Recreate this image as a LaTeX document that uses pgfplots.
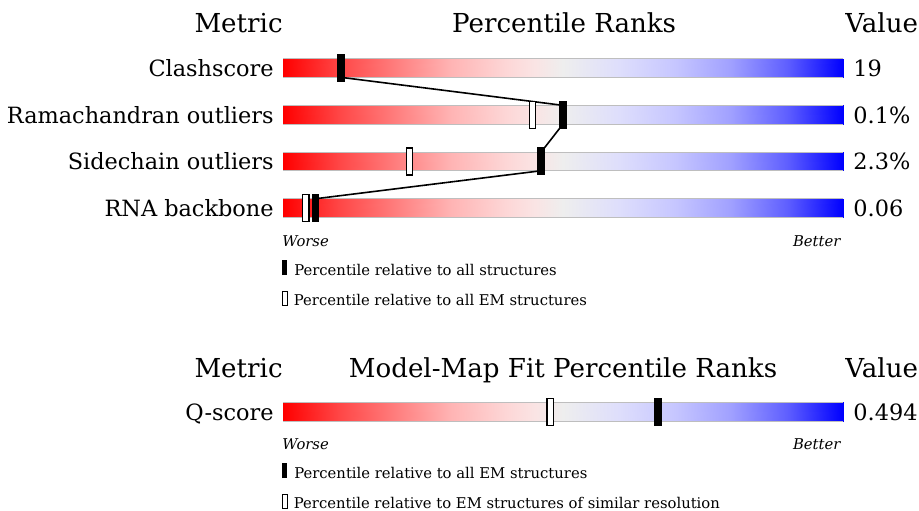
\documentclass[border=0pt]{standalone}
\usepackage{pgfplots}
\pgfplotsset{compat=1.18}
\usepackage{fontspec}
\setmainfont{DejaVu Serif}

% slider marks: filled = all structures, open = EM subset
\pgfdeclareplotmark{pctall}{%
  \pgfpathrectangle{\pgfpoint{-1.875pt}{-7pt}}{\pgfpoint{3.75pt}{14pt}}%
  \pgfusepath{fill}}
\pgfdeclareplotmark{pctem}{%
  \pgfpathrectangle{\pgfpoint{-1.55pt}{-6.75pt}}{\pgfpoint{3.1pt}{13.5pt}}%
  \pgfusepathqfillstroke}

\newcommand{\ttl}{\fontsize{13.05}{15}\selectfont}
\newcommand{\lbl}{\fontsize{11.2}{13}\selectfont}
\newcommand{\sml}{\fontsize{7.4}{9}\selectfont}
\newcommand{\allbox}{\rule{2.5pt}{7.5pt}}
\newcommand{\embox}{{\setlength\fboxsep{0pt}\setlength\fboxrule{0.6pt}\fbox{\rule{0pt}{6.3pt}\hspace{1.6pt}}}}

\begin{document}
\begin{tikzpicture}
\begin{axis}[
    width=459.5pt, height=255pt, scale only axis,
    xmin=-50.536, xmax=113.571,
    ymin=-510, ymax=0,
    hide axis, clip=false,
    colormap={slider}{rgb255(0cm)=(255,0,0) rgb255(2cm)=(255,70,70)
      rgb255(4cm)=(255,125,125) rgb255(6cm)=(255,180,180)
      rgb255(8cm)=(253,215,215) rgb255(9cm)=(250,228,228)
      rgb255(10cm)=(238,238,238) rgb255(12cm)=(222,222,252)
      rgb255(14cm)=(198,198,255) rgb255(16cm)=(160,160,255)
      rgb255(18cm)=(95,95,255) rgb255(20cm)=(0,0,255)},
    point meta min=0, point meta max=100,
    unbounded coords=jump,
]
\path (rel axis cs:0,0) rectangle (rel axis cs:1,1);

% gradient bars
\addplot[surf, shader=interp, mesh/cols=12, point meta=x, forget plot] coordinates {
(0,-58.65)(10,-58.65)(20,-58.65)(30,-58.65)(40,-58.65)(45,-58.65)(50,-58.65)(60,-58.65)(70,-58.65)(80,-58.65)(90,-58.65)(100,-58.65)
(0,-77.35)(10,-77.35)(20,-77.35)(30,-77.35)(40,-77.35)(45,-77.35)(50,-77.35)(60,-77.35)(70,-77.35)(80,-77.35)(90,-77.35)(100,-77.35)
};
\addplot[surf, shader=interp, mesh/cols=12, point meta=x, forget plot] coordinates {
(0,-105.35)(10,-105.35)(20,-105.35)(30,-105.35)(40,-105.35)(45,-105.35)(50,-105.35)(60,-105.35)(70,-105.35)(80,-105.35)(90,-105.35)(100,-105.35)
(0,-124.05)(10,-124.05)(20,-124.05)(30,-124.05)(40,-124.05)(45,-124.05)(50,-124.05)(60,-124.05)(70,-124.05)(80,-124.05)(90,-124.05)(100,-124.05)
};
\addplot[surf, shader=interp, mesh/cols=12, point meta=x, forget plot] coordinates {
(0,-152.05)(10,-152.05)(20,-152.05)(30,-152.05)(40,-152.05)(45,-152.05)(50,-152.05)(60,-152.05)(70,-152.05)(80,-152.05)(90,-152.05)(100,-152.05)
(0,-170.75)(10,-170.75)(20,-170.75)(30,-170.75)(40,-170.75)(45,-170.75)(50,-170.75)(60,-170.75)(70,-170.75)(80,-170.75)(90,-170.75)(100,-170.75)
};
\addplot[surf, shader=interp, mesh/cols=12, point meta=x, forget plot] coordinates {
(0,-198.75)(10,-198.75)(20,-198.75)(30,-198.75)(40,-198.75)(45,-198.75)(50,-198.75)(60,-198.75)(70,-198.75)(80,-198.75)(90,-198.75)(100,-198.75)
(0,-217.45)(10,-217.45)(20,-217.45)(30,-217.45)(40,-217.45)(45,-217.45)(50,-217.45)(60,-217.45)(70,-217.45)(80,-217.45)(90,-217.45)(100,-217.45)
};
\addplot[surf, shader=interp, mesh/cols=12, point meta=x, forget plot] coordinates {
(0,-402.45)(10,-402.45)(20,-402.45)(30,-402.45)(40,-402.45)(45,-402.45)(50,-402.45)(60,-402.45)(70,-402.45)(80,-402.45)(90,-402.45)(100,-402.45)
(0,-421.15)(10,-421.15)(20,-421.15)(30,-421.15)(40,-421.15)(45,-421.15)(50,-421.15)(60,-421.15)(70,-421.15)(80,-421.15)(90,-421.15)(100,-421.15)
};

% thin grey edges of the bars
\addplot[color={rgb,255:red,190;green,190;blue,190}, line width=0.5pt, forget plot] coordinates {
(0,-58.65)(100,-58.65)(nan,nan)(0,-77.35)(100,-77.35)(nan,nan)
(0,-105.35)(100,-105.35)(nan,nan)(0,-124.05)(100,-124.05)(nan,nan)
(0,-152.05)(100,-152.05)(nan,nan)(0,-170.75)(100,-170.75)(nan,nan)
(0,-198.75)(100,-198.75)(nan,nan)(0,-217.45)(100,-217.45)(nan,nan)
(0,-402.45)(100,-402.45)(nan,nan)(0,-421.15)(100,-421.15)
};

% line joining the percentiles relative to all structures
\addplot[black, line width=0.8pt, forget plot] coordinates {
(10.36,-77.35)(50,-105.35)(50,-124.05)(46.1,-152.05)(46.1,-170.75)(5.8,-198.75)
};

% percentile relative to EM structures (open)
\addplot[only marks, mark=pctem, mark options={draw=black, fill=white, line width=0.6pt}, forget plot] coordinates {
(44.6,-114.7)(22.6,-161.4)(4.1,-208.1)(47.7,-411.8)
};
% percentile relative to all structures (filled)
\addplot[only marks, mark=pctall, mark options={fill=black, draw=none}, forget plot] coordinates {
(10.36,-68)(50,-114.7)(46.1,-161.4)(5.8,-208.1)(67,-411.8)
};

% headers
\node[anchor=base east, inner sep=0pt, font=\ttl] at (axis cs:0,-33) {Metric};
\node[anchor=base, inner sep=0pt, font=\ttl] at (axis cs:50.2,-33) {Percentile Ranks};
\node[anchor=base west, inner sep=0pt, font=\ttl] at (axis cs:100.36,-33) {Value};
\node[anchor=base east, inner sep=0pt, font=\ttl] at (axis cs:0,-377) {Metric};
\node[anchor=base, inner sep=0pt, font=\ttl] at (axis cs:50,-377) {Model-Map Fit Percentile Ranks};
\node[anchor=base west, inner sep=0pt, font=\ttl] at (axis cs:100.36,-377) {Value};

% row labels and values
\node[anchor=base east, inner sep=0pt, font=\lbl] at (axis cs:-1.6,-76.3) {Clashscore};
\node[anchor=base east, inner sep=0pt, font=\lbl] at (axis cs:-1.6,-123) {Ramachandran outliers};
\node[anchor=base east, inner sep=0pt, font=\lbl] at (axis cs:-1.6,-169.7) {Sidechain outliers};
\node[anchor=base east, inner sep=0pt, font=\lbl] at (axis cs:-1.6,-216.4) {RNA backbone};
\node[anchor=base east, inner sep=0pt, font=\lbl] at (axis cs:-1.6,-420.1) {Q-score};
\node[anchor=base west, inner sep=0pt, font=\lbl] at (axis cs:101.8,-76.3) {19};
\node[anchor=base west, inner sep=0pt, font=\lbl] at (axis cs:101.8,-123) {0.1\%};
\node[anchor=base west, inner sep=0pt, font=\lbl] at (axis cs:101.8,-169.7) {2.3\%};
\node[anchor=base west, inner sep=0pt, font=\lbl] at (axis cs:101.8,-216.4) {0.06};
\node[anchor=base west, inner sep=0pt, font=\lbl] at (axis cs:101.8,-420.1) {0.494};

% scale ends and key
\node[anchor=base west, inner sep=0pt, font=\sml\itshape] at (axis cs:-0.2,-246) {Worse};
\node[anchor=base east, inner sep=0pt, font=\sml\itshape] at (axis cs:99.6,-246) {Better};
\node[anchor=base west, inner sep=0pt, font=\sml] at (axis cs:-0.2,-275) {\allbox\hspace{3.5pt}Percentile relative to all structures};
\node[anchor=base west, inner sep=0pt, font=\sml] at (axis cs:-0.2,-305) {\embox\hspace{3pt}Percentile relative to all EM structures};
\node[anchor=base west, inner sep=0pt, font=\sml\itshape] at (axis cs:-0.2,-449) {Worse};
\node[anchor=base east, inner sep=0pt, font=\sml\itshape] at (axis cs:99.6,-449) {Better};
\node[anchor=base west, inner sep=0pt, font=\sml] at (axis cs:-0.2,-478) {\allbox\hspace{3.5pt}Percentile relative to all EM structures};
\node[anchor=base west, inner sep=0pt, font=\sml] at (axis cs:-0.2,-508) {\embox\hspace{3pt}Percentile relative to EM structures of similar resolution};
\end{axis}
\pgfresetboundingbox
\path (current axis.south west) rectangle (current axis.north east);
\end{tikzpicture}
\end{document}
